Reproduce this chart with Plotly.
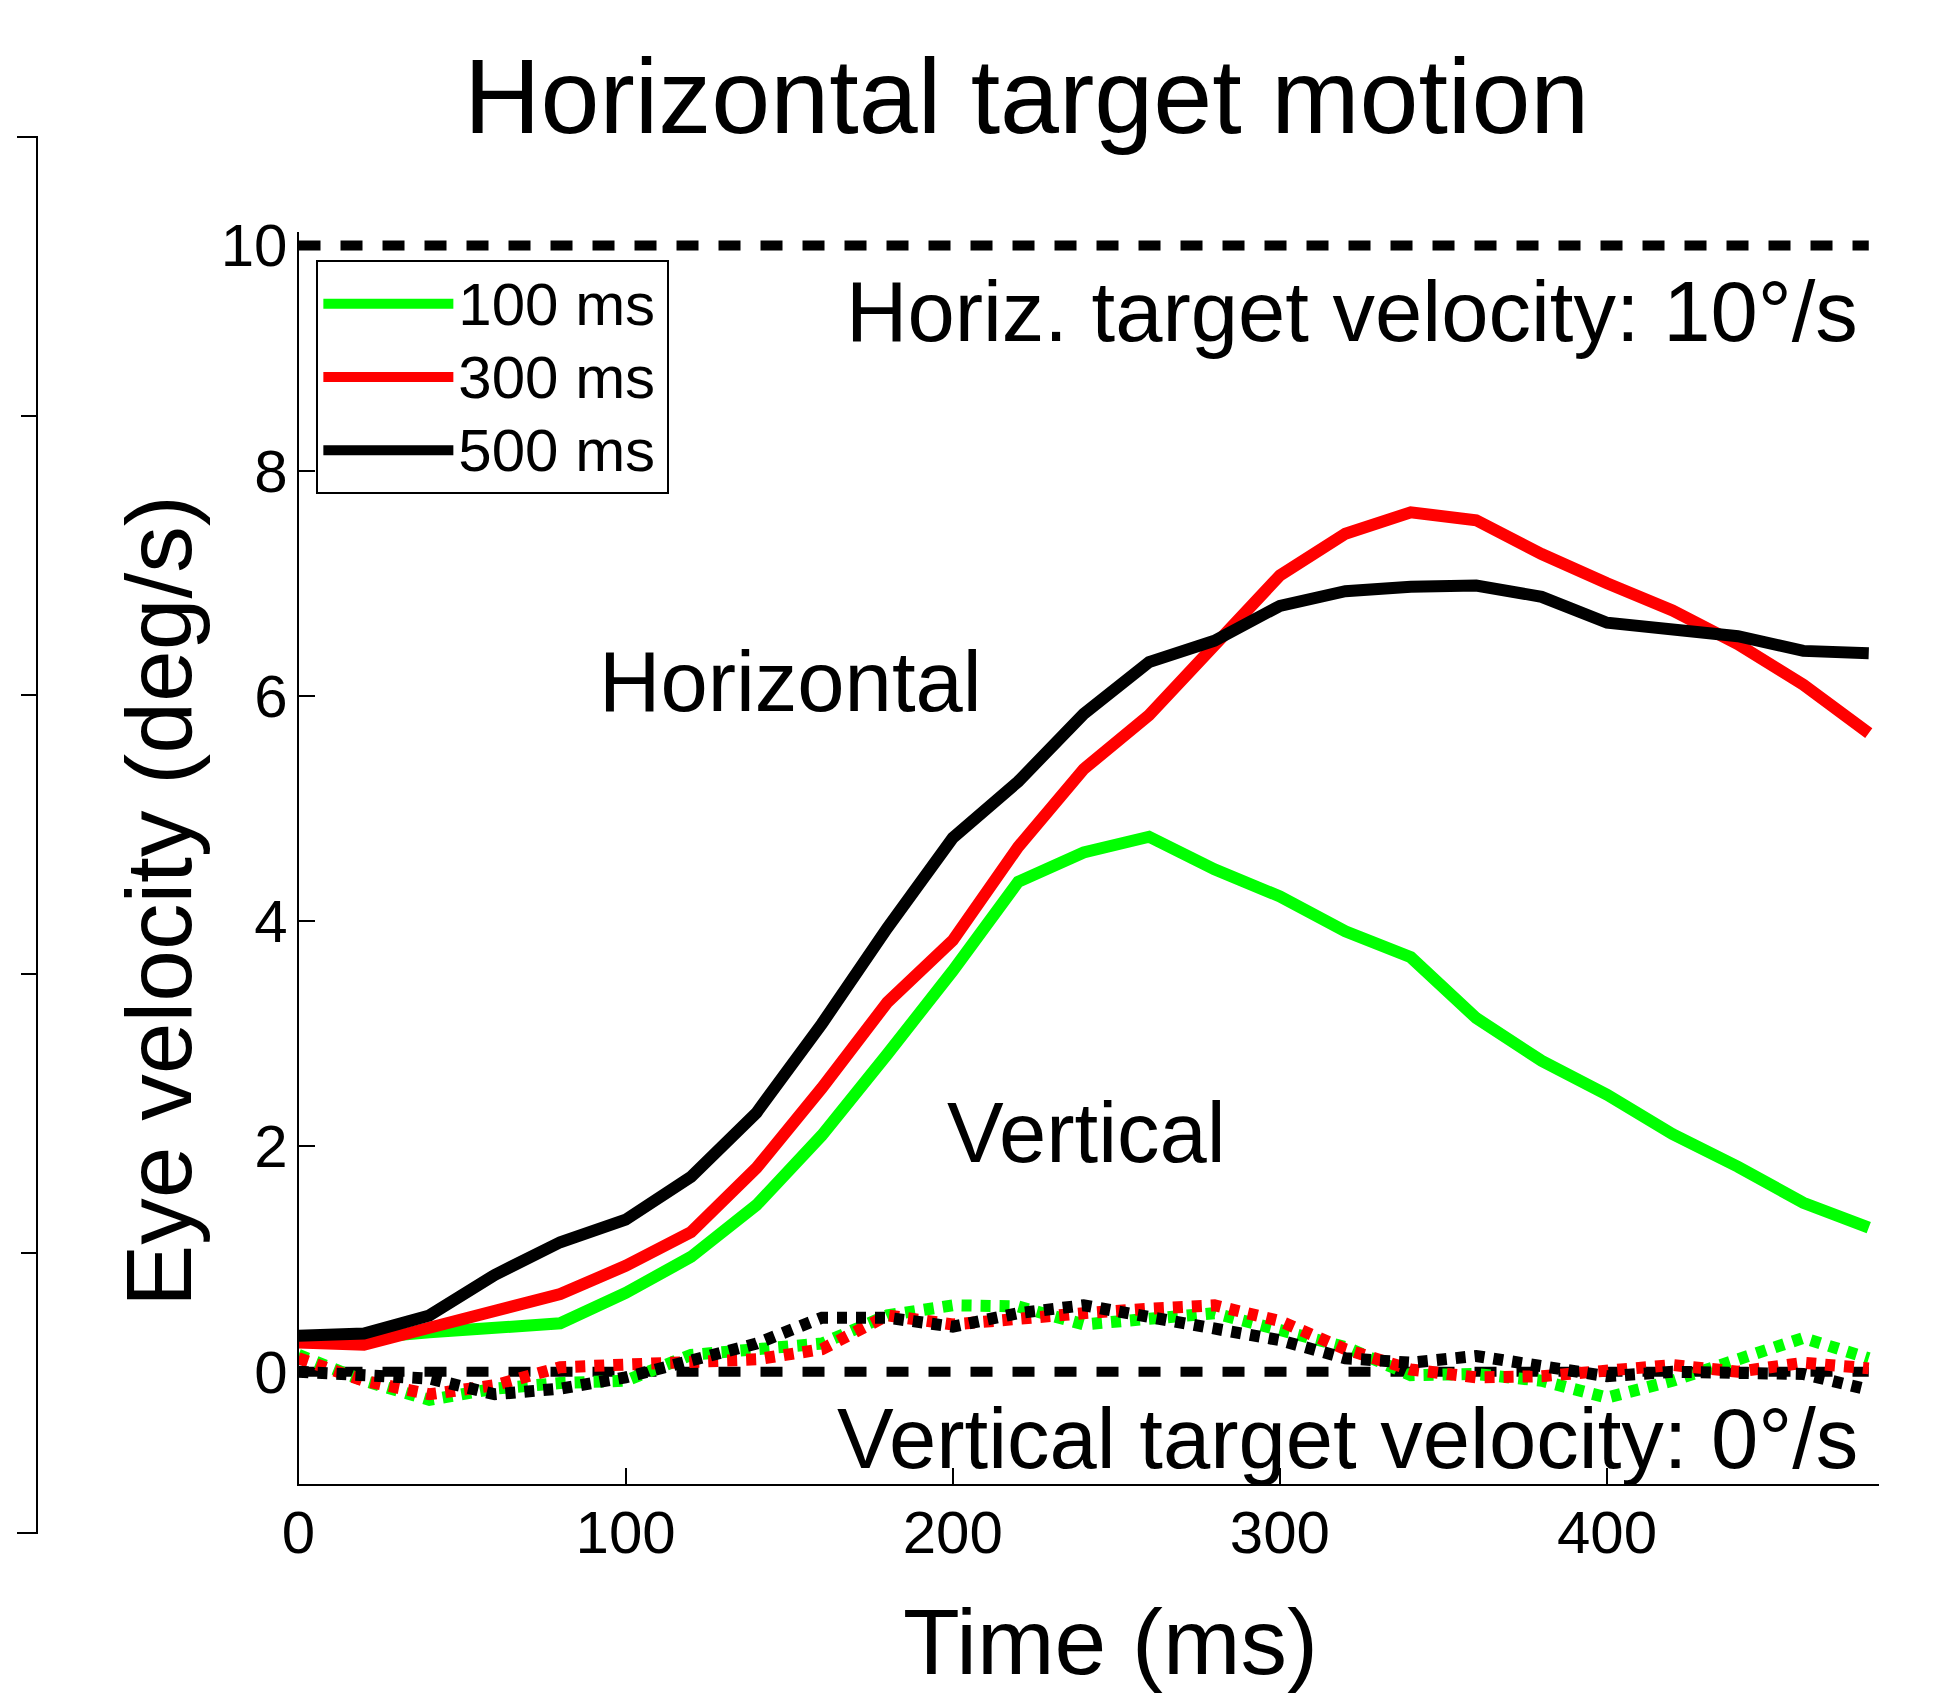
import plotly.graph_objects as go

# ---------------- data ----------------
time_ms = [0, 20, 40, 60, 80, 100, 120, 140, 160, 180, 200, 220, 240,
           260, 280, 300, 320, 340, 360, 380, 400, 420, 440, 460, 480]

horiz_100 = [0.28, 0.30, 0.35, 0.38, 0.43, 0.70, 1.02, 1.48, 2.10, 2.82, 3.56, 4.35, 4.61,
             4.75, 4.46, 4.22, 3.91, 3.68, 3.14, 2.76, 2.46, 2.11, 1.82, 1.50, 1.28]
horiz_300 = [0.26, 0.24, 0.39, 0.55, 0.69, 0.94, 1.24, 1.81, 2.52, 3.28, 3.83, 4.66, 5.35,
             5.83, 6.44, 7.07, 7.44, 7.63, 7.56, 7.26, 7.00, 6.76, 6.46, 6.10, 5.67]
horiz_500 = [0.32, 0.34, 0.50, 0.86, 1.15, 1.35, 1.73, 2.30, 3.09, 3.94, 4.74, 5.24, 5.84,
             6.30, 6.49, 6.80, 6.93, 6.97, 6.98, 6.88, 6.65, 6.60, 6.53, 6.40, 6.38]

vert_100 = [0.15, -0.08, -0.25, -0.15, -0.10, -0.08, 0.15, 0.20, 0.25, 0.50, 0.59, 0.58, 0.42,
            0.47, 0.52, 0.37, 0.22, -0.03, -0.02, -0.08, -0.23, -0.08, 0.12, 0.30, 0.12]
vert_300 = [0.12, -0.08, -0.20, -0.12, 0.04, 0.07, 0.09, 0.11, 0.20, 0.50, 0.42, 0.48, 0.52,
            0.56, 0.59, 0.45, 0.20, 0.02, -0.05, -0.04, 0.00, 0.06, 0.00, 0.08, 0.03]
vert_500 = [0.00, -0.03, -0.06, -0.20, -0.15, -0.05, 0.10, 0.25, 0.48, 0.48, 0.40, 0.52, 0.59,
            0.48, 0.38, 0.28, 0.12, 0.08, 0.14, 0.04, -0.04, 0.00, 0.00, -0.02, -0.16]

series_names = ["100 ms", "300 ms", "500 ms"]
series_colors = ["#00FF00", "#FF0000", "#000000"]

target_time = [0, 480]
horiz_target = [10, 10]
vert_target = [0, 0]

x_ticks = [0, 100, 200, 300, 400]
y_ticks = [0, 2, 4, 6, 8, 10]

FONT = "Liberation Sans, Arial, Helvetica, sans-serif"

fig = go.Figure()

# target velocity reference lines
for yy in (horiz_target, vert_target):
    fig.add_trace(go.Scatter(x=target_time, y=yy, mode="lines",
                             line=dict(color="black", width=10, dash="22px,20px"),
                             showlegend=False, hoverinfo="skip"))

# vertical eye velocity (dotted)
for name, col, vals in zip(series_names, series_colors, [vert_100, vert_300, vert_500]):
    fig.add_trace(go.Scatter(x=time_ms, y=vals, mode="lines",
                             line=dict(color=col, width=12, dash="10px,9px"),
                             showlegend=False, name=name + " vertical"))

# horizontal eye velocity (solid)
for name, col, vals in zip(series_names, series_colors, [horiz_100, horiz_300, horiz_500]):
    fig.add_trace(go.Scatter(
        x=time_ms, y=vals, mode="lines", line=dict(color=col, width=12),
        showlegend=True,
        name='<span style="font-size:60px">' + name + '</span>'
             '<span style="font-size:24px">&nbsp;</span>'))

# neighbouring panel frame (partially visible at left edge)
fig.add_trace(go.Scatter(x=[None], y=[None], xaxis="x2", yaxis="y2",
                         showlegend=False, hoverinfo="skip"))

W, H = 1943, 1694
axis_common = dict(showline=True, linecolor="black", linewidth=2, ticks="inside",
                   ticklen=16, tickwidth=2, tickcolor="black", showgrid=False,
                   zeroline=False, tickfont=dict(family=FONT, size=60, color="black"))

fig.update_layout(
    width=W, height=H,
    margin=dict(l=0, r=0, t=0, b=0),
    paper_bgcolor="white", plot_bgcolor="white",
    font=dict(family=FONT, color="black"),
    xaxis=dict(domain=[284 / W, 1878 / W], range=[0, 483], tickvals=x_ticks,
               ticklabelstandoff=-5, anchor="y", **axis_common),
    yaxis=dict(domain=[1 - 1482 / H, 1 - 215.3 / H], range=[-1, 10.12], tickvals=y_ticks,
               ticklabelstandoff=-3, anchor="x", **axis_common),
    xaxis2=dict(domain=[0, 19 / W], range=[0, 1], anchor="y2", showline=True,
                linecolor="black", linewidth=2, mirror=True, showticklabels=False,
                ticks="", showgrid=False, zeroline=False),
    yaxis2=dict(domain=[1 - 1530 / H, 1 - 120 / H], range=[0, 5], anchor="x2", side="right",
                showline=True, linecolor="black", linewidth=2, ticks="inside", ticklen=15,
                tickwidth=2, tickcolor="black", tickvals=[1, 2, 3, 4],
                showticklabels=False, showgrid=False, zeroline=False),
    legend=dict(x=302 / W, y=1 - 244 / H, xanchor="left", yanchor="top",
                bgcolor="white", bordercolor="black", borderwidth=2,
                font=dict(family=FONT, size=54, color="black"),
                itemwidth=130, tracegroupgap=0),
    showlegend=True,
)

annotations = [
    dict(text="Horizontal target motion", xref="paper", yref="paper",
         x=1018 / W, y=1 - 78 / H, xanchor="center", yanchor="middle",
         font=dict(size=106)),
    dict(text="Time (ms)", xref="paper", yref="paper",
         x=1103 / W, y=1 - 1641 / H, xanchor="center", yanchor="middle",
         font=dict(size=93)),
    dict(text="Eye velocity (deg/s)", xref="paper", yref="paper", textangle=-90,
         x=143 / W, y=1 - 892 / H, xanchor="center", yanchor="middle",
         font=dict(size=93)),
    dict(text="Horiz. target velocity: 10°/s", xref="x", yref="y",
         x=477.3, y=9.41, xanchor="right", yanchor="middle", font=dict(size=85)),
    dict(text="Vertical target velocity: 0°/s", xref="x", yref="y",
         x=477.3, y=-0.59, xanchor="right", yanchor="middle", font=dict(size=85)),
    dict(text="Horizontal", xref="x", yref="y",
         x=150.5, y=6.13, xanchor="center", yanchor="middle", font=dict(size=85)),
    dict(text="Vertical", xref="x", yref="y",
         x=241, y=2.12, xanchor="center", yanchor="middle", font=dict(size=85)),
]
for a in annotations:
    a["showarrow"] = False
    a["font"] = dict(family=FONT, color="black", size=a["font"]["size"])
fig.update_layout(annotations=annotations)

fig.write_html(
    "out.html",
    post_script="document.body.style.margin='0';document.body.style.padding='0';"
                "document.body.style.overflow='hidden';",
)
